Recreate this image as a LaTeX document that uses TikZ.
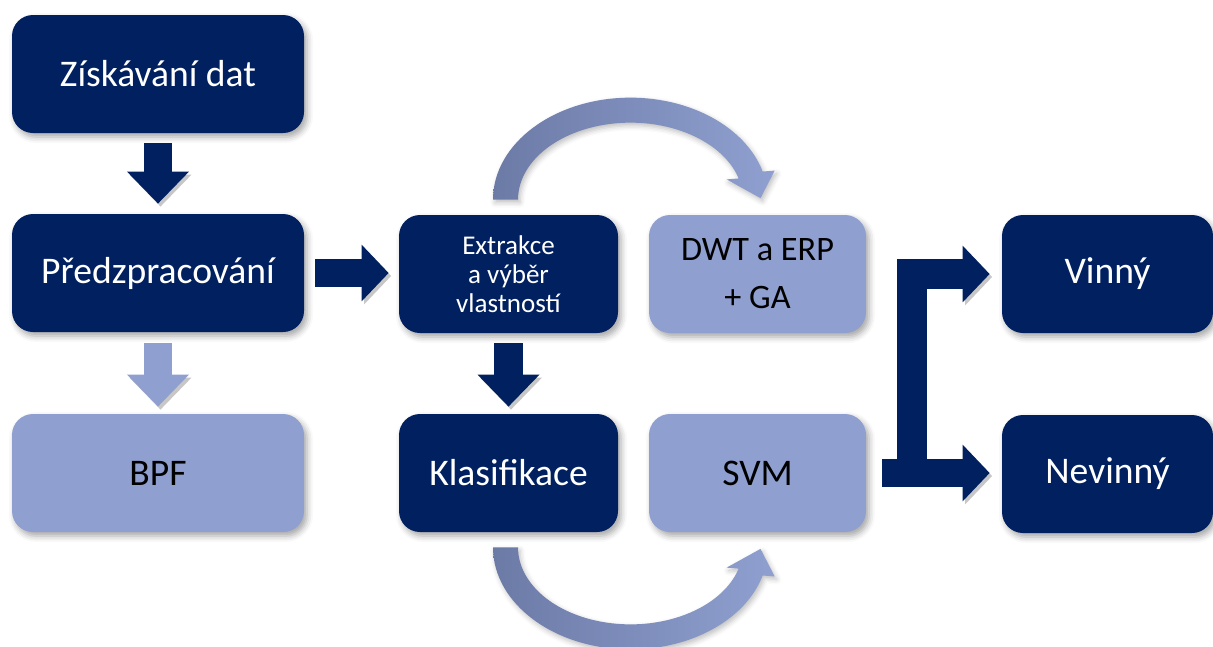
\documentclass[tikz,border=0pt]{standalone}
\usepackage{fontspec}
\setmainfont{Carlito}
\usetikzlibrary{arrows.meta,calc,shadows.blur}

\definecolor{navy}{RGB}{0,32,96}
\definecolor{lavender}{RGB}{143,160,208}
\definecolor{slate}{RGB}{108,122,166}

\begin{document}
\begin{tikzpicture}[box_node/.style={rounded corners=0.42cm, minimum height=2.36cm, align=center,
        font=\fontsize{21.4}{25}\selectfont,
        blur shadow={shadow xshift=0.06cm, shadow yshift=-0.08cm, shadow blur radius=0.12cm, shadow opacity=35}},
    dark_node/.style={box_node, fill=navy, text=white},
    light_node/.style={box_node, fill=lavender, text=black},
    arrow_shadow/.style={preaction={draw=black!22, transform canvas={shift={(0.05,-0.06)}}}},
    down_arrow/.style={arrow_shadow, draw=#1, line width=0.57cm, -{Triangle[width=1.2cm,length=0.64cm]}},
    right_arrow/.style={arrow_shadow, draw=navy, line width=0.55cm, -{Triangle[width=1.1cm,length=0.54cm]}},
    bend_arrow/.style={left color=slate, right color=lavender,
        blur shadow={shadow xshift=0.04cm, shadow yshift=-0.06cm, shadow blur radius=0.1cm, shadow opacity=25}}]
    \useasboundingbox (0,0) rectangle (24.26,-12.92);

    % left column
    \node[dark_node, minimum width=5.84cm] (get) at (3.16,-1.48) {Získávání dat};
    \node[dark_node, minimum width=5.84cm] (pre) at (3.16,-5.46) {Předzpracování};
    \node[light_node, minimum width=5.84cm] (bpf) at (3.16,-9.46) {BPF};

    % middle block
    \node[dark_node, minimum width=4.38cm, font=\fontsize{15.4}{16.4}\selectfont] (ext) at (10.17,-5.48) {Extrakce\\a výběr\\vlastností};
    \node[light_node, minimum width=4.34cm, font=\fontsize{19.5}{27.3}\selectfont] (dwt) at (15.15,-5.48) {DWT a ERP\\+ GA};
    \node[dark_node, minimum width=4.38cm] (kla) at (10.17,-9.46) {Klasifikace};
    \node[light_node, minimum width=4.34cm] (svm) at (15.15,-9.46) {SVM};

    % results
    \node[dark_node, minimum width=4.22cm] (vin) at (22.15,-5.48) {Vinný};
    \node[dark_node, minimum width=4.22cm] (nev) at (22.15,-9.48) {Nevinný};

    \draw[down_arrow=navy, shorten <=0.2cm, shorten >=0.2cm] (get) -- (pre);
    \draw[down_arrow=lavender, shorten <=0.22cm, shorten >=0.14cm] (pre) -- (bpf);
    \draw[down_arrow=navy, shorten <=0.2cm, shorten >=0.14cm] (ext) -- (kla);
    \draw[right_arrow, shorten <=0.22cm, shorten >=0.2cm] (pre.east) -- (pre.east -| ext.west);

    % curved arrows between the two columns
    \coordinate (top_c) at ($(ext.north)!0.49!(dwt.north)+(0,0.3)$);
    \coordinate (bot_c) at ($(kla.south)!0.49!(svm.south)+(0,-0.3)$);
    \shade[bend_arrow] ($(top_c)+(180:2.75cm and 2.04cm)$)
        arc[start angle=180, end angle=16, x radius=2.75cm, y radius=2.04cm]
        -- ($(top_c)+(16:3.0cm and 2.11cm)$) -- ($(top_c)+(2.6,0.03)$) -- ($(top_c)+(16:2.0cm and 1.47cm)$)
        -- ($(top_c)+(16:2.25cm and 1.54cm)$)
        arc[start angle=16, end angle=180, x radius=2.25cm, y radius=1.54cm] -- cycle;
    \shade[bend_arrow] ($(bot_c)+(180:2.75cm and 2.04cm)$)
        arc[start angle=180, end angle=344, x radius=2.75cm, y radius=2.04cm]
        -- ($(bot_c)+(344:3.0cm and 2.11cm)$) -- ($(bot_c)+(2.6,-0.03)$) -- ($(bot_c)+(344:2.0cm and 1.47cm)$)
        -- ($(bot_c)+(344:2.25cm and 1.54cm)$)
        arc[start angle=344, end angle=180, x radius=2.25cm, y radius=1.54cm] -- cycle;

    % split to the two verdicts
    \coordinate (split) at ($(svm.east)!0.34!(nev.west)$);
    \draw[right_arrow, line width=0.6cm, line join=miter, shorten >=0.24cm] (split) |- (vin.west);
    \draw[right_arrow, shorten <=0.32cm, shorten >=0.24cm] (svm.east) -- (svm.east -| nev.west);
\end{tikzpicture}
\end{document}
